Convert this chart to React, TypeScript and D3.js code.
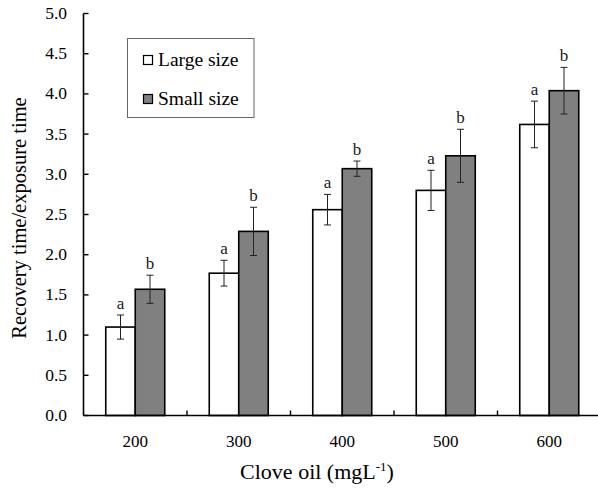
import React from "react";
import * as d3 from "d3";

const categories = ["200", "300", "400", "500", "600"];
const largeValues = [1.1, 1.77, 2.56, 2.8, 3.62];
const largeErrors = [0.15, 0.16, 0.19, 0.25, 0.29];
const smallValues = [1.57, 2.29, 3.07, 3.23, 4.04];
const smallErrors = [0.175, 0.3, 0.095, 0.33, 0.29];
const largeLetters = ["a", "a", "a", "a", "a"];
const smallLetters = ["b", "b", "b", "b", "b"];
const yTicks = [0, 0.5, 1, 1.5, 2, 2.5, 3, 3.5, 4, 4.5, 5];
const seriesNames = ["Large size", "Small size"];
const seriesColors = ["#ffffff", "#808080"];

const W = 598;
const H = 489;
const left = 83.5;
const right = 601;
const top = 13.5;
const bottom = 415.5;
const FONT = '"Liberation Serif", "Times New Roman", Times, "DejaVu Serif", serif';

export default function App() {
  const x = d3.scaleBand<string>().domain(categories).range([left, right]).padding(0);
  const y = d3.scaleLinear().domain([0, 5]).range([bottom, top]);
  const barW = 29.5;
  const series = [
    { vals: largeValues, errs: largeErrors, letters: largeLetters, color: seriesColors[0], off: -barW },
    { vals: smallValues, errs: smallErrors, letters: smallLetters, color: seriesColors[1], off: 0 },
  ];
  const boundaries = categories.map((c) => x(c)!).slice(1).concat([x(categories[4])! + x.bandwidth()]);
  const ts = { fontFamily: FONT };

  return (
    <svg width={W} height={H} style={{ position: "absolute", left: 0, top: 0, background: "#fff", fontFamily: FONT }}>
      <rect x={0} y={0} width={W} height={H} fill="#fff" />
      {series.map((s, si) =>
        categories.map((c, i) => {
          const cx = x(c)! + x.bandwidth() / 2;
          const bx = cx + s.off;
          const v = s.vals[i];
          const e = s.errs[i];
          const ex = bx + barW / 2;
          const yTop = y(v + e);
          const yBot = y(v - e);
          return (
            <g key={`${si}-${i}`}>
              <rect x={bx} y={y(v)} width={barW} height={bottom - y(v)} fill={s.color} stroke="#000" strokeWidth={1.6} />
              <line x1={ex} x2={ex} y1={yTop} y2={yBot} stroke="#222" strokeWidth={1} />
              <line x1={ex - 3.5} x2={ex + 3.5} y1={yTop} y2={yTop} stroke="#222" strokeWidth={1} />
              <line x1={ex - 3.5} x2={ex + 3.5} y1={yBot} y2={yBot} stroke="#222" strokeWidth={1} />
              <text x={ex} y={yTop - 6} textAnchor="middle" fontSize={17} fill="#1a1a1a" style={ts}>
                {s.letters[i]}
              </text>
            </g>
          );
        })
      )}
      {/* y axis */}
      <line x1={left} x2={left} y1={top} y2={bottom} stroke="#000" strokeWidth={1.6} />
      {yTicks.map((t) => (
        <g key={t}>
          <line x1={left} x2={left + 5} y1={y(t)} y2={y(t)} stroke="#000" strokeWidth={1.4} />
          <text x={67} y={y(t) + 5.5} textAnchor="end" fontSize={17.5} fill="#000" style={ts}>
            {t.toFixed(1)}
          </text>
        </g>
      ))}
      {/* x axis */}
      <line x1={left} x2={right} y1={bottom} y2={bottom} stroke="#000" strokeWidth={1.6} />
      {boundaries.map((b, i) => (
        <line key={i} x1={b} x2={b} y1={bottom} y2={bottom - 5} stroke="#000" strokeWidth={1.4} />
      ))}
      {categories.map((c) => (
        <text key={c} x={x(c)! + x.bandwidth() / 2} y={447} textAnchor="middle" fontSize={17} fill="#000" style={ts}>
          {c}
        </text>
      ))}
      <text x={317} y={479} textAnchor="middle" fontSize={22} fill="#000" style={ts}>
        Clove oil (mgL<tspan dy={-8} fontSize={13}>-1</tspan>
        <tspan dy={8}>)</tspan>
      </text>
      <text transform="translate(26,218) rotate(-90)" textAnchor="middle" fontSize={20.5} fill="#000" style={ts}>
        Recovery time/exposure time
      </text>
      {/* legend */}
      <rect x={127.5} y={38.5} width={126.5} height={79} fill="#fff" stroke="#666" strokeWidth={1} />
      {seriesNames.map((n, i) => (
        <g key={n}>
          <rect x={143.5} y={55.5 + i * 39} width={9} height={9} fill={seriesColors[i]} stroke="#000" strokeWidth={1.2} />
          <text x={158} y={65.5 + i * 39.5} fontSize={19.5} fill="#000" style={ts}>
            {n}
          </text>
        </g>
      ))}
    </svg>
  );
}
